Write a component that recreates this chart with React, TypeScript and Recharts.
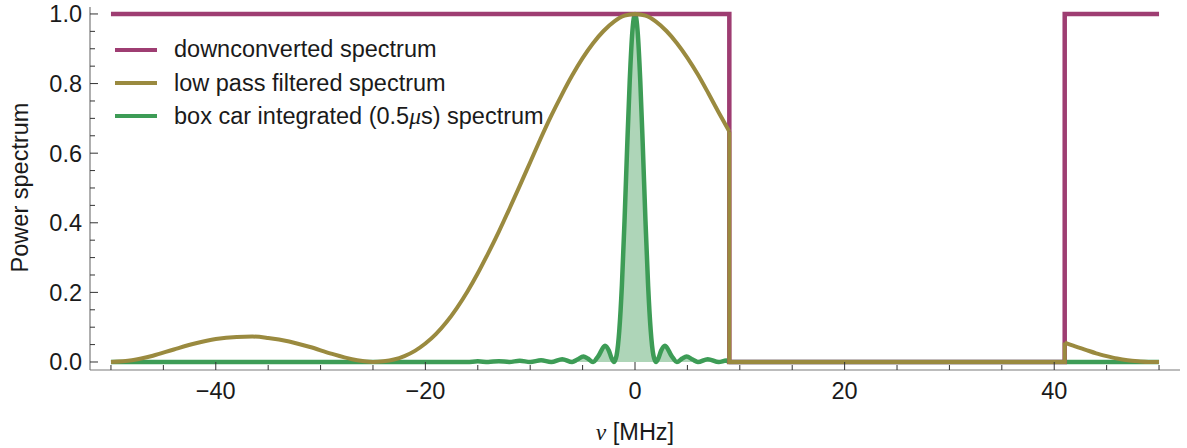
import { ComposedChart, Line, Area, XAxis, YAxis, Legend } from "recharts";

// frame ticks (Mathematica style: inward, minor every 5 MHz / 0.05)
const xTicks = [-50, -45, -40, -35, -30, -25, -20, -15, -10, -5, 0, 5, 10, 15, 20, 25, 30, 35, 40, 45, 50];
const xLabelTicks = [-40, -20, 0, 20, 40];
const yTicks = [0, 0.05, 0.1, 0.15, 0.2, 0.25, 0.3, 0.35, 0.4, 0.45, 0.5, 0.55, 0.6, 0.65, 0.7, 0.75, 0.8, 0.85, 0.9, 0.95, 1];
const yLabelTicks = [0, 0.2, 0.4, 0.6, 0.8, 1];

// [nu (MHz), power]
const downconverted = [
  [-50, 1], [9, 1], [9, 0], [41, 0], [41, 1], [50, 1],
];

// low pass filtered: passband part, the cut at the band edges, and the part above 41 MHz
const lowPassMain = [
  [-50, 0], [-48, 0.005], [-46, 0.018], [-44, 0.036], [-42, 0.053], [-40, 0.066],
  [-38, 0.072], [-36.5, 0.073], [-35, 0.069], [-33, 0.059], [-31, 0.043], [-29, 0.024],
  [-27, 0.008], [-26, 0.003], [-25, 0], [-24, 0.002], [-23, 0.007], [-22, 0.017],
  [-21, 0.032], [-20, 0.053], [-19, 0.08], [-18, 0.114], [-17, 0.155], [-16, 0.202],
  [-15, 0.255], [-14, 0.313], [-13, 0.374], [-12, 0.439], [-11, 0.506], [-10, 0.574],
  [-9, 0.642], [-8, 0.707], [-7, 0.767], [-6, 0.823], [-5, 0.873], [-4, 0.916],
  [-3, 0.951], [-2, 0.978], [-1, 0.995], [0, 1], [1, 0.995], [2, 0.978],
  [3, 0.951], [4, 0.916], [5, 0.874], [6, 0.826], [7, 0.772], [8, 0.716], [9, 0.662],
];
const lowPassCut = [
  [9, 0.662], [9, 0], [41, 0], [41, 0.056],
];
const lowPassTail = [
  [41, 0.056], [42, 0.045], [43, 0.035], [44, 0.025], [45, 0.017], [46, 0.01],
  [47, 0.005], [48, 0.002], [49, 0], [50, 0],
];

const boxCar = [
  [-50, 0], [-16, 0], [-15, 0.002], [-14, 0], [-13, 0.0025], [-12, 0], [-11, 0.0035],
  [-10, 0], [-8.96, 0.005], [-8, 0], [-6.94, 0.008], [-6, 0], [-5.5, 0.007],
  [-4.92, 0.016], [-4.5, 0.01], [-4, 0], [-3.5, 0.017], [-2.86, 0.047], [-2.5, 0.033],
  [-2.25, 0.012], [-2, 0], [-1.75, 0.02], [-1.5, 0.09], [-1.25, 0.22], [-1, 0.405],
  [-0.75, 0.615], [-0.5, 0.81], [-0.25, 0.95], [0, 1], [0.25, 0.95], [0.5, 0.81],
  [0.75, 0.615], [1, 0.405], [1.25, 0.22], [1.5, 0.09], [1.75, 0.02], [2, 0],
  [2.25, 0.012], [2.5, 0.033], [2.86, 0.047], [3.5, 0.017], [4, 0], [4.5, 0.01],
  [4.92, 0.016], [5.5, 0.007], [6, 0], [6.94, 0.008], [8, 0], [8.7, 0.004],
  [9, 0], [41, 0], [50, 0],
];

const MAGENTA = "#9e3d72";
const OLIVE = "#9a8a3f";
const GREEN = "#3d9c56";
const FRAME = "#7a7a7a";
const TICK = "#333333";
const FONT = '"Liberation Sans", Arial, sans-serif';
const SERIF = '"Liberation Serif", "Times New Roman", serif';
const FS = 23.5;

const toPoints = (arr: number[][]) => arr.map(([x, v]) => ({ x, v }));

const has = (list: number[], v: number) => list.some((t) => Math.abs(t - v) < 1e-9);
const fmtX = (v: number) => (v < 0 ? `\u2212${Math.abs(v)}` : `${v}`);

function BottomTick(props: any) {
  const { x, y, payload } = props;
  const major = has(xLabelTicks, payload.value);
  return (
    <g>
      <line x1={x} y1={y} x2={x} y2={y - (major ? 8 : 5)} stroke={TICK} strokeWidth={1} />
      {major && (
        <text x={x} y={y + 29} textAnchor="middle" fontFamily={FONT} fontSize={FS} fill="#1a1a1a">
          {fmtX(payload.value)}
        </text>
      )}
    </g>
  );
}

function TopTick(props: any) {
  const { x, y, payload } = props;
  const major = has(xLabelTicks, payload.value);
  return <line x1={x} y1={y} x2={x} y2={y + (major ? 8 : 5)} stroke={TICK} strokeWidth={1} />;
}

function LeftTick(props: any) {
  const { x, y, payload } = props;
  const major = has(yLabelTicks, payload.value);
  return (
    <g>
      <line x1={x} y1={y} x2={x + (major ? 8 : 5)} y2={y} stroke={TICK} strokeWidth={1} />
      {major && (
        <text x={x - 8} y={y + 8.5} textAnchor="end" fontFamily={FONT} fontSize={FS} fill="#1a1a1a">
          {payload.value.toFixed(1)}
        </text>
      )}
    </g>
  );
}

function RightTick(props: any) {
  const { x, y, payload } = props;
  const major = has(yLabelTicks, payload.value);
  return <line x1={x} y1={y} x2={x - (major ? 8 : 5)} y2={y} stroke={TICK} strokeWidth={1} />;
}

const legendItems = [
  { color: MAGENTA, label: <>downconverted spectrum</> },
  { color: OLIVE, label: <>low pass filtered spectrum</> },
  {
    color: GREEN,
    label: (
      <>
        box car integrated (0.5<span style={{ fontFamily: SERIF, fontStyle: "italic" }}>μ</span>s) spectrum
      </>
    ),
  },
];

function LegendBox() {
  return (
    <div style={{ fontFamily: FONT, fontSize: FS, color: "#1a1a1a" }}>
      {legendItems.map((it, i) => (
        <div key={i} style={{ display: "flex", alignItems: "center", height: 33.4, whiteSpace: "nowrap" }}>
          <div style={{ width: 42, height: 4, background: it.color, marginRight: 17 }} />
          <span>{it.label}</span>
        </div>
      ))}
    </div>
  );
}

const lineProps = {
  dataKey: "v",
  dot: false,
  activeDot: false,
  isAnimationActive: false,
  legendType: "none" as const,
};

export default function App() {
  return (
    <div style={{ position: "absolute", left: 0, top: 0, width: 1187, height: 448, background: "#fff" }}>
      <ComposedChart width={1187} height={448} margin={{ top: 7, right: 7, bottom: 0, left: 0 }}>
        <XAxis
          dataKey="x"
          type="number"
          domain={[-52, 52]}
          ticks={xTicks}
          interval={0}
          height={78}
          tickSize={0}
          tickMargin={0}
          tickLine={false}
          axisLine={{ stroke: FRAME, strokeWidth: 1.2 }}
          tick={(p: any) => <BottomTick {...p} />}
          label={(p: any) => {
            const vb = p.viewBox || { x: 90, y: 370, width: 1090 };
            return (
              <text
                x={vb.x + vb.width / 2}
                y={vb.y + 70}
                textAnchor="middle"
                fontFamily={FONT}
                fontSize={FS}
                fill="#1a1a1a"
              >
                <tspan fontFamily={SERIF} fontStyle="italic">ν</tspan> [MHz]
              </text>
            );
          }}
        />
        <XAxis
          xAxisId="top"
          dataKey="x"
          type="number"
          orientation="top"
          domain={[-52, 52]}
          ticks={xTicks}
          interval={0}
          height={0}
          tickSize={0}
          tickMargin={0}
          tickLine={false}
          axisLine={{ stroke: FRAME, strokeWidth: 1.2 }}
          tick={(p: any) => <TopTick {...p} />}
        />
        <YAxis
          type="number"
          domain={[-0.023, 1.02]}
          ticks={yTicks}
          interval={0}
          width={90}
          tickSize={0}
          tickMargin={0}
          tickLine={false}
          axisLine={{ stroke: FRAME, strokeWidth: 1.2 }}
          tick={(p: any) => <LeftTick {...p} />}
          label={(p: any) => {
            const vb = p.viewBox || { x: 0, y: 7, width: 90, height: 363 };
            const cy = vb.y + vb.height / 2 - 1;
            return (
              <text
                x={28}
                y={cy}
                transform={`rotate(-90, 28, ${cy})`}
                textAnchor="middle"
                fontFamily={FONT}
                fontSize={FS}
                fill="#1a1a1a"
              >
                Power spectrum
              </text>
            );
          }}
        />
        <YAxis
          yAxisId="right"
          orientation="right"
          type="number"
          domain={[-0.023, 1.02]}
          ticks={yTicks}
          interval={0}
          width={0}
          tickSize={0}
          tickMargin={0}
          tickLine={false}
          axisLine={{ stroke: FRAME, strokeWidth: 1.2 }}
          tick={(p: any) => <RightTick {...p} />}
        />
        <Legend
          layout="vertical"
          align="center"
          verticalAlign="middle"
          wrapperStyle={{ left: 115, top: 33, width: 560 }}
          content={() => <LegendBox />}
        />
        <Line {...lineProps} data={toPoints(downconverted)} type="linear" stroke={MAGENTA} strokeWidth={4.5} name="downconverted spectrum" />
        <Line {...lineProps} data={toPoints(lowPassMain)} type="monotone" stroke={OLIVE} strokeWidth={4} name="low pass filtered spectrum" />
        <Line {...lineProps} data={toPoints(lowPassCut)} type="linear" stroke={OLIVE} strokeWidth={4} name="low pass cut" />
        <Line {...lineProps} data={toPoints(lowPassTail)} type="monotone" stroke={OLIVE} strokeWidth={4} name="low pass tail" />
        <Area
          {...lineProps}
          data={toPoints(boxCar)}
          type="monotone"
          stroke={GREEN}
          strokeWidth={4.5}
          fill={GREEN}
          fillOpacity={0.42}
          name="box car integrated (0.5μs) spectrum"
        />
      </ComposedChart>
    </div>
  );
}
